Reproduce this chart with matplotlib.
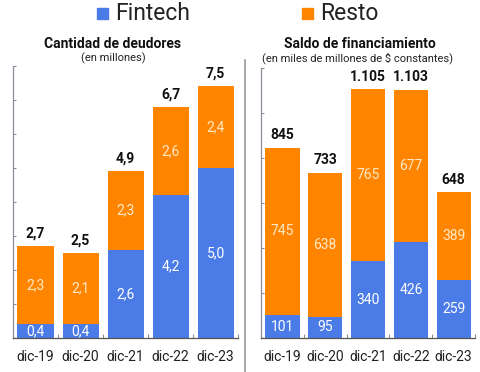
import matplotlib
matplotlib.use("Agg")
import matplotlib.pyplot as plt
from matplotlib.lines import Line2D
from matplotlib.patches import Rectangle
import numpy as np

plt.rcParams['font.family'] = ['Roboto', 'DejaVu Sans']

categories = ["dic-19", "dic-20", "dic-21", "dic-22", "dic-23"]
deud_fintech = [0.4, 0.4, 2.6, 4.2, 5.0]
deud_resto = [2.3, 2.1, 2.3, 2.6, 2.4]
deud_total = [2.7, 2.5, 4.9, 6.7, 7.5]
saldo_fintech = [101, 95, 340, 426, 259]
saldo_resto = [745, 638, 765, 677, 389]
saldo_total = [845, 733, 1105, 1103, 648]
legend_labels = ["Fintech", "Resto"]

BLUE = "#4A7BE6"
ORANGE = "#FF8500"
AX_COL = "#8A8F9A"

W, H = 481, 372
fig = plt.figure(figsize=(W / 100, H / 100), dpi=100)

def fmt_dec(v):
    return f"{v:.1f}".replace(".", ",")

def fmt_int(v):
    return f"{v:,.0f}".replace(",", ".")

def panel(rect, fin, res, tot, ymax, ystep, fmt):
    ax = fig.add_axes(rect)
    x = np.arange(len(categories))
    ax.bar(x, fin, width=0.8, color=BLUE, zorder=2)
    ax.bar(x, res, bottom=fin, width=0.8, color=ORANGE, zorder=2)
    for i in range(len(categories)):
        ax.text(x[i], fin[i] / 2, fmt(fin[i]), ha="center", va="center",
                color="#FFFFFF", fontsize=10, zorder=3)
        ax.text(x[i], fin[i] + res[i] / 2, fmt(res[i]), ha="center", va="center",
                color="#FFE9C4", fontsize=10, zorder=3)
        ax.annotate(fmt(tot[i]), (x[i], fin[i] + res[i]), xytext=(0, 4),
                    textcoords="offset points", ha="center", va="bottom",
                    fontsize=10, fontweight="bold", color="#111111")
    ax.set_xlim(-0.5, len(categories) - 0.5)
    ax.set_ylim(0, ymax)
    ax.set_yticks(np.arange(0, ymax + ystep / 2, ystep))
    ax.set_yticklabels([])
    ax.tick_params(axis="y", direction="in", length=2, color=AX_COL, width=0.8)
    ax.set_xticks(x)
    ax.set_xticklabels(categories, fontsize=10, color="#222222")
    ax.set_xticks(np.arange(-0.5, len(categories), 1), minor=True)
    ax.tick_params(axis="x", which="major", length=0, pad=9)
    ax.tick_params(axis="x", which="minor", length=3, color=AX_COL, width=0.8, direction="in")
    for s in ["top", "right"]:
        ax.spines[s].set_visible(False)
    ax.spines["left"].set_color(AX_COL)
    ax.spines["bottom"].set_color("#555555")
    ax.spines["left"].set_linewidth(0.9)
    ax.spines["bottom"].set_linewidth(0.9)
    return ax

ax1 = panel([0.027, 0.0914, 0.468, 0.731], deud_fintech, deud_resto, deud_total, 8, 1, fmt_dec)
ax2 = panel([0.5426, 0.0914, 0.445, 0.726], saldo_fintech, saldo_resto, saldo_total, 1200, 200, fmt_int)

# titles
fig.text(113 / W, 1 - 43.5 / H, "Cantidad de deudores", ha="center", va="center",
         fontsize=10, fontweight="bold", color="#111111")
fig.text(113 / W, 1 - 58 / H, "(en millones)", ha="center", va="center",
         fontsize=8, color="#222222")
fig.text(360 / W, 1 - 43.5 / H, "Saldo de financiamiento", ha="center", va="center",
         fontsize=10, fontweight="bold", color="#111111")
fig.text(358 / W, 1 - 58 / H, "(en miles de millones de $ constantes)", ha="center", va="center",
         fontsize=8, color="#222222")

# separator
fig.add_artist(Line2D([245 / W, 245 / W], [1 - 60 / H, 0.0], color="#9A9A9A", lw=1.2))

# legend (manual)
for (sx, tx), lab, col in zip([(97, 115), (302, 320)], legend_labels, [BLUE, ORANGE]):
    fig.add_artist(Rectangle((sx / W, 1 - 19 / H), 11 / W, 11 / H, color=col,
                             transform=fig.transFigure))
    fig.text(tx / W, 1 - 19.5 / H, lab, ha="left", va="baseline", fontsize=16.5,
             color="#222222")

fig.savefig("out.png", dpi=100)
